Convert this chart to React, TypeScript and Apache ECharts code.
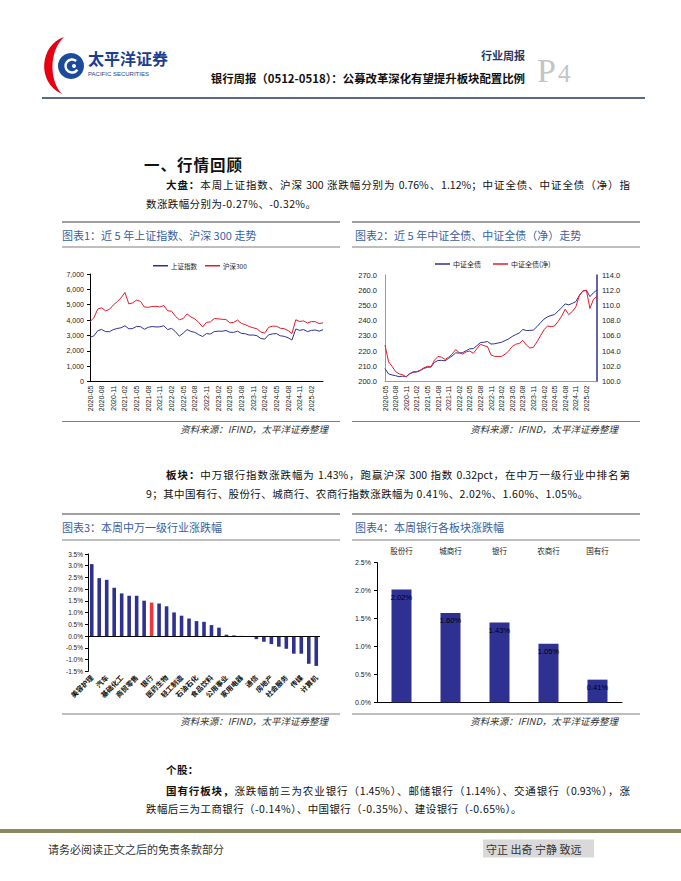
import React, { useEffect, useRef } from 'react';
import * as echarts from 'echarts';

const CJK = "'Noto Sans CJK SC', sans-serif";
const NUM = "'Liberation Sans', 'Noto Sans CJK SC', sans-serif";
const NAVY = '#2E3192';
const RED = '#E51A2B';

// ---------- data ----------
const months: string[] = (() => {
  const out: string[] = [];
  for (let y = 2020; y <= 2025; y++) {
    for (let m = 1; m <= 12; m++) {
      if (y === 2020 && m < 5) continue;
      if (y === 2025 && m > 5) continue;
      out.push(`${y}-${String(m).padStart(2, '0')}`);
    }
  }
  return out;
})();
const lastMonthLabel = '2025-02';

const shIndex = [
  2870, 2970, 3310, 3390, 3250, 3240, 3380, 3450,
  3500, 3630, 3430, 3450, 3590, 3570, 3400, 3530, 3580, 3550, 3560, 3630,
  3380, 3460, 3250, 2950, 3150, 3380, 3260, 3200, 3050, 2930, 3120, 3090,
  3250, 3280, 3270, 3320, 3210, 3200, 3280, 3130, 3110, 3020, 3030, 2980,
  2800, 2760, 3040, 3100, 3120, 2980, 2940, 2850, 2700, 3420, 3330, 3380,
  3250, 3330, 3350, 3280, 3370,
];
const hs300 = [
  3900, 4150, 4720, 4800, 4600, 4700, 4980, 5200,
  5450, 5800, 5050, 5120, 5300, 5220, 4850, 4830, 4880, 4900, 4850, 4950,
  4600, 4580, 4250, 4020, 4100, 4400, 4200, 4080, 3850, 3550, 3850, 3880,
  4100, 4080, 4050, 4040, 3820, 3850, 4000, 3780, 3700, 3580, 3500, 3430,
  3220, 3150, 3530, 3600, 3600, 3470, 3440, 3320, 3120, 4020, 3900, 3950,
  3800, 3900, 3900, 3770, 3820,
];
const bondTotal = [
  208.5, 205.0, 204.3, 203.8, 203.2, 203.5, 203.3, 205.2,
  206.0, 206.3, 207.2, 208.6, 209.3, 209.6, 212.5, 213.8, 213.9, 213.6, 215.2, 216.8,
  218.8, 218.7, 219.0, 220.3, 221.5, 221.6, 223.5, 225.6, 225.8, 226.3, 224.6, 224.8,
  225.3, 225.8, 226.9, 228.0, 229.6, 230.8, 231.9, 234.2, 233.5, 233.6, 233.8, 236.0,
  238.6, 241.0, 242.5, 243.4, 244.0, 246.3, 248.5, 251.0, 250.4, 251.3, 252.5, 256.5,
  259.5, 260.0, 255.8, 258.3, 260.2,
];
const bondNet = [
  104.8, 102.6, 102.0, 101.3, 101.0, 100.9, 100.6, 101.0,
  101.3, 101.3, 101.5, 101.8, 102.0, 101.9, 102.8, 103.3, 103.2, 102.9, 103.2, 103.6,
  104.2, 103.8, 103.6, 103.9, 104.0, 103.7, 104.3, 104.9, 104.7, 104.6, 103.5, 103.3,
  103.3, 103.3, 103.6, 104.0, 104.6, 104.9, 105.0, 105.4, 104.8, 104.4, 104.5, 105.2,
  106.0, 106.8, 107.3, 107.2, 107.3, 107.9, 108.6, 109.5, 108.8, 109.2, 109.8, 111.3,
  111.9, 112.0, 109.6, 110.8, 111.2,
];

const industries = [
  '美容护理', '农林牧渔', '汽车', '钢铁', '基础化工', '有色金属', '商贸零售', '电子',
  '银行', '纺织服饰', '医药生物', '交通运输', '轻工制造', '建筑材料', '石油石化', '建筑装饰',
  '食品饮料', '电力设备', '公用事业', '机械设备', '家用电器', '国防军工', '通信', '非银金融',
  '房地产', '综合', '社会服务', '煤炭', '传媒', '环保', '计算机',
];
const industryChange = [
  3.07, 2.47, 2.40, 2.06, 1.82, 1.72, 1.72, 1.51, 1.43, 1.39, 1.27, 1.01, 0.87, 0.75, 0.64, 0.61,
  0.47, 0.36, 0.06, 0.03, 0.01, -0.01, -0.13, -0.24, -0.34, -0.45, -0.54, -0.75, -0.75, -1.18, -1.27,
];
const highlightIndustry = '银行';

const sectors = ['股份行', '城商行', '银行', '农商行', '国有行'];
const sectorChange = [2.02, 1.60, 1.43, 1.05, 0.41];

// ---------- logo shape ----------
echarts.graphic.registerShape(
  'logo',
  echarts.graphic.extendPath('M 64 37 C 40 45, 36 82, 62 94 C 50 82, 48 52, 64 37 Z', {})
);

const txt = (x: number, y: number, text: string, o: any = {}) => ({
  type: 'text',
  x,
  y,
  silent: true,
  style: {
    text,
    fill: o.fill || '#222',
    fontSize: o.size || 10,
    fontFamily: o.family || CJK,
    fontWeight: o.weight || 'normal',
    fontStyle: o.fstyle || 'normal',
    textAlign: o.align || 'left',
    align: o.align || 'left',
    textVerticalAlign: o.valign || 'middle',
    verticalAlign: o.valign || 'middle',
  },
});
const ln = (x1: number, y1: number, x2: number, y2: number, stroke: string, w = 1) => ({
  type: 'line',
  silent: true,
  shape: { x1, y1, x2, y2 },
  style: { stroke, lineWidth: w },
});

const TITLE_BLUE = '#3A5FA0';
const SRC = '资料来源：IFIND，太平洋证券整理';

const graphics: any[] = [
  // header
  { type: 'logo', x: 0, y: 0, silent: true, style: { fill: '#E60012' } },
  { type: 'circle', silent: true, shape: { cx: 71, cy: 66, r: 13 }, style: { fill: '#1D4B9B' } },
  {
    type: 'arc', silent: true,
    shape: { cx: 72, cy: 66, r: 6.5, startAngle: 0.6, endAngle: 5.4 },
    style: { stroke: '#fff', lineWidth: 2.5, fill: 'none' },
  },
  { type: 'circle', silent: true, shape: { cx: 74, cy: 66, r: 2 }, style: { fill: '#fff' } },
  txt(88, 58, '太平洋证券', { size: 16, weight: 'bold', fill: '#1D3E8F' }),
  txt(88, 73.5, 'PACIFIC SECURITIES', { size: 6, family: NUM, fill: '#1D3E8F' }),
  txt(525, 55, '行业周报', { size: 11, weight: 'bold', fill: '#1F3864', align: 'right' }),
  txt(525, 78, '银行周报（0512-0518）：公募改革深化有望提升板块配置比例', { size: 11.4, weight: 'bold', fill: '#111', align: 'right' }),
  txt(537, 87, 'P', { size: 34, family: "'Liberation Serif', serif", fill: '#C4C4C4', valign: 'bottom' }),
  txt(558, 86, '4', { size: 25, family: "'Liberation Serif', serif", fill: '#C4C4C4', valign: 'bottom' }),
  ln(42, 98, 645, 98, '#1F3864', 1.5),

  // chart boxes row 1
  ln(62, 222, 340, 222, '#404040'),
  ln(352, 222, 640, 222, '#404040'),
  txt(62, 234.5, '图表1：近 5 年上证指数、沪深 300 走势', { size: 11, fill: TITLE_BLUE }),
  txt(355, 234.5, '图表2：近 5 年中证全债、中证全债（净）走势', { size: 11, fill: TITLE_BLUE }),
  ln(62, 247, 340, 247, '#7F7F7F'),
  ln(352, 247, 640, 247, '#7F7F7F'),
  ln(62, 421.5, 340, 421.5, '#7F7F7F'),
  ln(352, 421.5, 640, 421.5, '#7F7F7F'),
  txt(328, 428.5, SRC, { size: 9.5, fstyle: 'italic', align: 'right', fill: '#333' }),
  txt(618, 428.5, SRC, { size: 9.5, fstyle: 'italic', align: 'right', fill: '#333' }),

  // chart boxes row 2
  ln(62, 514, 340, 514, '#404040'),
  ln(352, 514, 640, 514, '#404040'),
  txt(62, 527, '图表3：本周中万一级行业涨跌幅', { size: 11, fill: TITLE_BLUE }),
  txt(355, 527, '图表4：本周银行各板块涨跌幅', { size: 11, fill: TITLE_BLUE }),
  ln(62, 540, 340, 540, '#7F7F7F'),
  ln(352, 540, 640, 540, '#7F7F7F'),
  ln(62, 714, 340, 714, '#7F7F7F'),
  ln(352, 714, 640, 714, '#7F7F7F'),
  txt(328, 721, SRC, { size: 9.5, fstyle: 'italic', align: 'right', fill: '#333' }),
  txt(618, 721, SRC, { size: 9.5, fstyle: 'italic', align: 'right', fill: '#333' }),

  // footer
  ln(0, 831, 681, 831, '#8B8A5E', 4),
  txt(48, 848.5, '请务必阅读正文之后的免责条款部分', { size: 11, fill: '#333' }),
  { type: 'rect', silent: true, shape: { x: 483, y: 839.5, width: 111, height: 18 }, style: { fill: '#D9D9D9' } },
  txt(486, 848.5, '守正 出奇 宁静 致远', { size: 11, fill: '#333' }),
];

const axisText = { fontSize: 7, color: '#222', fontFamily: NUM };
const thousands = (v: number) =>
  v === 0 ? '0' : `${Math.floor(v / 1000)},${String(v % 1000).padStart(3, '0')}`;
const lastLabelIdx = months.indexOf(lastMonthLabel);
const quarterLabel = (i: number) => i % 3 === 0 && i <= lastLabelIdx;

const option: any = {
  animation: false,
  textStyle: { fontFamily: NUM },
  graphic: { elements: graphics },
  legend: [
    {
      data: ['上证指数', '沪深300'],
      left: 148, top: 257.5, icon: 'rect', itemWidth: 15, itemHeight: 1.5, itemGap: 8,
      textStyle: { fontSize: 6.5, color: '#222', fontFamily: CJK, padding: [0, 0, 0, -2] },
    },
    {
      data: ['中证全债', '中证全债(净)'],
      left: 430, top: 255.5, icon: 'rect', itemWidth: 15, itemHeight: 1.5, itemGap: 12,
      textStyle: { fontSize: 7, color: '#222', fontFamily: CJK, padding: [0, 0, 0, -2] },
    },
  ],
  grid: [
    { left: 90, top: 274, width: 233, height: 107.5 },
    { left: 385, top: 275, width: 212, height: 106.5 },
    { left: 88, top: 554, width: 232, height: 117.3 },
    { left: 377, top: 562.6, width: 245, height: 140 },
  ],
  xAxis: [
    {
      type: 'category', gridIndex: 0, data: months, boundaryGap: false,
      axisLine: { lineStyle: { color: '#000', width: 1 } },
      axisTick: { show: false },
      axisLabel: { ...axisText, interval: quarterLabel, rotate: 90, margin: 4 },
    },
    {
      type: 'category', gridIndex: 1, data: months, boundaryGap: false,
      axisLine: { lineStyle: { color: '#999', width: 1 } },
      axisTick: { show: false },
      axisLabel: { ...axisText, interval: quarterLabel, rotate: 90, margin: 4 },
    },
    {
      type: 'category', gridIndex: 2, data: industries,
      axisLine: { show: false, onZero: false },
      axisTick: { show: false },
      axisLabel: { fontSize: 7, color: '#111', fontFamily: CJK, fontWeight: 'bold', interval: 1, rotate: 45, margin: 5 },
    },
    {
      type: 'category', gridIndex: 3, data: sectors, position: 'bottom',
      axisLine: { lineStyle: { color: '#000', width: 1 } },
      axisTick: { show: false },
      axisLabel: { show: false },
    },
    {
      type: 'category', gridIndex: 3, data: sectors, position: 'top',
      axisLine: { show: false },
      axisTick: { show: false },
      axisLabel: { fontSize: 7.5, color: '#222', fontFamily: CJK, margin: 8 },
    },
  ],
  yAxis: [
    {
      type: 'value', gridIndex: 0, min: 0, max: 7000, interval: 1000,
      splitLine: { show: false },
      axisLine: { show: true, lineStyle: { color: '#000' } },
      axisTick: { show: true, length: 3, lineStyle: { color: '#000' } },
      axisLabel: { ...axisText, margin: 6, formatter: (v: number) => thousands(v) },
    },
    {
      type: 'value', gridIndex: 1, min: 200, max: 270, interval: 10, position: 'left',
      splitLine: { show: false },
      axisLine: { show: true, lineStyle: { color: '#999' } },
      axisTick: { show: false },
      axisLabel: { ...axisText, fontSize: 7.5, margin: 8, formatter: (v: number) => v.toFixed(1) },
    },
    {
      type: 'value', gridIndex: 1, min: 100, max: 114, interval: 2, position: 'right',
      splitLine: { show: false },
      axisLine: { show: true, lineStyle: { color: NAVY, width: 1.5 } },
      axisTick: { show: false },
      axisLabel: { ...axisText, fontSize: 7.5, margin: 5, formatter: (v: number) => v.toFixed(1) },
    },
    {
      type: 'value', gridIndex: 2, min: -1.5, max: 3.5, interval: 0.5,
      splitLine: { show: false },
      axisLine: { show: true, lineStyle: { color: '#000' } },
      axisTick: { show: true, length: 3, lineStyle: { color: '#000' } },
      axisLabel: { ...axisText, fontSize: 6.5, margin: 5, formatter: (v: number) => `${v.toFixed(1)}%` },
    },
    {
      type: 'value', gridIndex: 3, min: 0, max: 2.5, interval: 0.5,
      splitLine: { show: false },
      axisLine: { show: true, lineStyle: { color: '#000' } },
      axisTick: { show: true, length: 3, lineStyle: { color: '#000' } },
      axisLabel: { ...axisText, fontSize: 7, margin: 6, formatter: (v: number) => `${v.toFixed(1)}%` },
    },
  ],
  series: [
    {
      name: '上证指数', type: 'line', xAxisIndex: 0, yAxisIndex: 0, data: shIndex,
      symbol: 'none', lineStyle: { color: NAVY, width: 1 }, itemStyle: { color: NAVY },
    },
    {
      name: '沪深300', type: 'line', xAxisIndex: 0, yAxisIndex: 0, data: hs300,
      symbol: 'none', lineStyle: { color: RED, width: 1 }, itemStyle: { color: RED },
    },
    {
      name: '中证全债', type: 'line', xAxisIndex: 1, yAxisIndex: 1, data: bondTotal,
      symbol: 'none', lineStyle: { color: NAVY, width: 1 }, itemStyle: { color: NAVY },
    },
    {
      name: '中证全债(净)', type: 'line', xAxisIndex: 1, yAxisIndex: 2, data: bondNet,
      symbol: 'none', lineStyle: { color: RED, width: 1 }, itemStyle: { color: RED },
    },
    {
      name: '行业涨跌幅', type: 'bar', xAxisIndex: 2, yAxisIndex: 3, barWidth: 3.6,
      data: industryChange.map((v, i) =>
        industries[i] === highlightIndustry ? { value: v, itemStyle: { color: '#F0343C' } } : v
      ),
      itemStyle: { color: NAVY },
      markLine: {
        silent: true, symbol: 'none', label: { show: false },
        lineStyle: { color: '#000', width: 1, type: 'solid' },
        data: [{ yAxis: 0 }],
      },
    },
    {
      name: '板块涨跌幅', type: 'bar', xAxisIndex: 3, yAxisIndex: 4, barWidth: 20,
      data: sectorChange, itemStyle: { color: NAVY },
      label: {
        show: true, position: 'insideTop', distance: 4, fontSize: 7.5, color: '#000',
        textBorderWidth: 0, textBorderColor: NAVY, textShadowBlur: 0,
        fontFamily: NUM, formatter: (p: any) => `${p.value.toFixed(2)}%`,
      },
    },
  ],
};

const Line = (props: { x: number; y: number; w?: number; justify?: boolean; size?: number; bold?: boolean; ls?: number; children: any }) => {
  const { x, y, w, justify, size = 10.5, bold, ls, children } = props;
  return (
    <div
      style={{
        position: 'absolute',
        left: x,
        top: y - 8,
        width: w ?? 500,
        height: 16,
        lineHeight: '16px',
        fontSize: size,
        fontFamily: CJK,
        fontWeight: bold ? 700 : 400,
        color: '#111',
        textAlign: justify ? 'justify' : 'left',
        textAlignLast: justify ? 'justify' : 'left',
        letterSpacing: ls ?? (justify ? 0 : 0.4),
        whiteSpace: justify ? 'normal' : 'nowrap',
      } as any}
    >
      {children}
    </div>
  );
};

export default function App() {
  const ref = useRef<HTMLDivElement>(null);
  useEffect(() => {
    const chart = echarts.init(ref.current!, null, { renderer: 'svg', width: 681, height: 881 });
    chart.setOption(option);
    return () => chart.dispose();
  }, []);
  return (
    <div style={{ position: 'absolute', left: 0, top: 0, width: 681, height: 881, background: '#fff', overflow: 'hidden' }}>
      <div ref={ref} style={{ position: 'absolute', left: 0, top: 0, width: 681, height: 881 }} />
      <Line x={144} y={164} size={15.5} bold ls={1}>一、行情回顾</Line>
      <Line x={166} y={185} w={464} justify>
        <b>大盘：</b>本周上证指数、沪深 300 涨跌幅分别为 0.76%、1.12%；中证全债、中证全债（净）指
      </Line>
      <Line x={146} y={204}>数涨跌幅分别为-0.27%、-0.32%。</Line>
      <Line x={166} y={475} w={464} justify>
        <b>板块：</b>中万银行指数涨跌幅为 1.43%，跑赢沪深 300 指数 0.32pct，在中万一级行业中排名第
      </Line>
      <Line x={146} y={494}>9；其中国有行、股份行、城商行、农商行指数涨跌幅为 0.41%、2.02%、1.60%、1.05%。</Line>
      <Line x={166} y={770} bold>个股：</Line>
      <Line x={166} y={791} w={464} justify>
        <b>国有行板块，</b>涨跌幅前三为农业银行（1.45%）、邮储银行（1.14%）、交通银行（0.93%），涨
      </Line>
      <Line x={146} y={809}>跌幅后三为工商银行（-0.14%）、中国银行（-0.35%）、建设银行（-0.65%）。</Line>
    </div>
  );
}
